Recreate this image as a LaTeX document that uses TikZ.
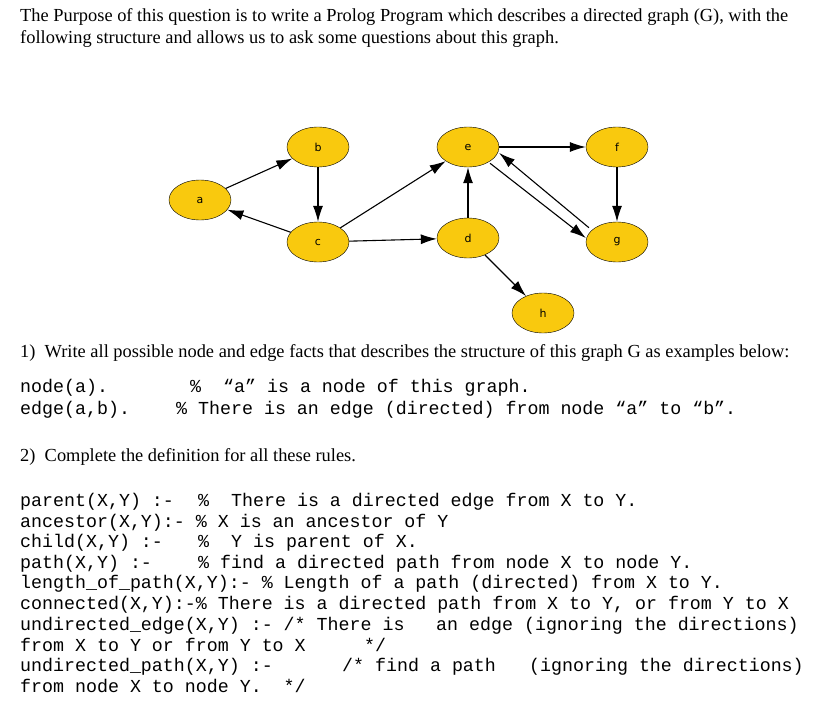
\documentclass[tikz,border=0pt]{standalone}
\usepackage{fontspec}
\setmainfont{Liberation Serif}
\setmonofont{Liberation Mono}
\setsansfont{DejaVu Sans}
\usetikzlibrary{arrows.meta,shapes.geometric}
\definecolor{gold}{HTML}{F9C90E}
\tikzset{
  gnode/.style={ellipse,draw=black,fill=gold,minimum width=62pt,minimum height=40pt,inner sep=0pt,font=\sffamily\fontsize{11}{12}\selectfont},
  gedge/.style={-{Latex[length=16pt,width=10pt]},line width=1.1pt},
  ser/.style={anchor=base west,inner sep=0pt,font=\fontsize{18.4}{21}\selectfont},
  mono/.style={anchor=base west,inner sep=0pt,font=\ttfamily\fontsize{18.3}{21}\selectfont},
}
\begin{document}
\begin{tikzpicture}[x=1pt,y=-1pt]
\useasboundingbox (0,0) rectangle (830,701);
\node[ser] (t1) at (20,22) {The Purpose of this question is to write a Prolog Program which describes a directed graph (G), with the};
\node[ser] (t2) at (20,44) {following structure and allows us to ask some questions about this graph.};
% graph
\node[gnode] (a) at (200,200) {a};
\node[gnode] (b) at (318,147) {b};
\node[gnode] (c) at (318,242) {c};
\node[gnode] (e) at (468,147) {e};
\node[gnode] (d) at (468,238) {d};
\node[gnode] (f) at (617,147) {f};
\node[gnode] (g) at (617,242) {g};
\node[gnode] (h) at (543,313) {h};
\draw[gedge] (a) -- (b);
\draw[gedge] (c) -- (a);
\draw[gedge] (b) -- (c);
\draw[gedge] (c) -- (e);
\draw[gedge] (c) -- (d);
\draw[gedge] (d) -- (e);
\draw[gedge] (e) -- (f);
\draw[gedge] (f) -- (g);
\draw[gedge] ([yshift=-2pt]e.south east) -- ([yshift=4pt]g.west);
\draw[gedge] ([xshift=-6pt]g.north west) -- ([yshift=-6pt]e.east);
\draw[gedge] (d) -- (h);
% text
\node[ser] (q1) at (20,357) {1)\ \ Write all possible node and edge facts that describes the structure of this graph G as examples below:};
\node[mono] (n1) at (20,392) {node(a).};
\node[mono] (n1c) at (190,392) {\%\ \ “a” is a node of this graph.};
\node[mono] (n2) at (20,414) {edge(a,b).};
\node[mono] (n2c) at (176,414) {\% There is an edge (directed) from node “a” to “b”.};
\node[ser] (q2) at (20,461) {2)\ \ Complete the definition for all these rules.};
\node[mono] (r1) at (20,506) {parent(X,Y) :-};
\node[mono] (r1c) at (198,506) {\%\ \ There is a directed edge from X to Y.};
\node[mono] (r2) at (20,527) {ancestor(X,Y):- \% X is an ancestor of Y};
\node[mono] (r3) at (20,547) {child(X,Y) :-};
\node[mono] (r3c) at (198,547) {\%\ \ Y is parent of X.};
\node[mono] (r4) at (20,568) {path(X,Y) :-};
\node[mono] (r4c) at (198,568) {\% find a directed path from node X to node Y.};
\node[mono] (r5) at (20,588) {length\_of\_path(X,Y):- \% Length of a path (directed) from X to Y.};
\node[mono] (r6) at (20,609) {connected(X,Y):-\% There is a directed path from X to Y, or from Y to X};
\node[mono] (r7) at (20,630) {undirected\_edge(X,Y) :- /* There is};
\node[mono] (r7c) at (436,630) {an edge (ignoring the directions)};
\node[mono] (r8) at (20,651) {from X to Y or from Y to X};
\node[mono] (r8c) at (364,651) {*/};
\node[mono] (r9) at (20,671) {undirected\_path(X,Y) :-};
\node[mono] (r9c) at (342,671) {/* find a path};
\node[mono] (r9d) at (529,671) {(ignoring the directions)};
\node[mono] (r10) at (20,692) {from node X to node Y.\ \ */};
\end{tikzpicture}
\end{document}
